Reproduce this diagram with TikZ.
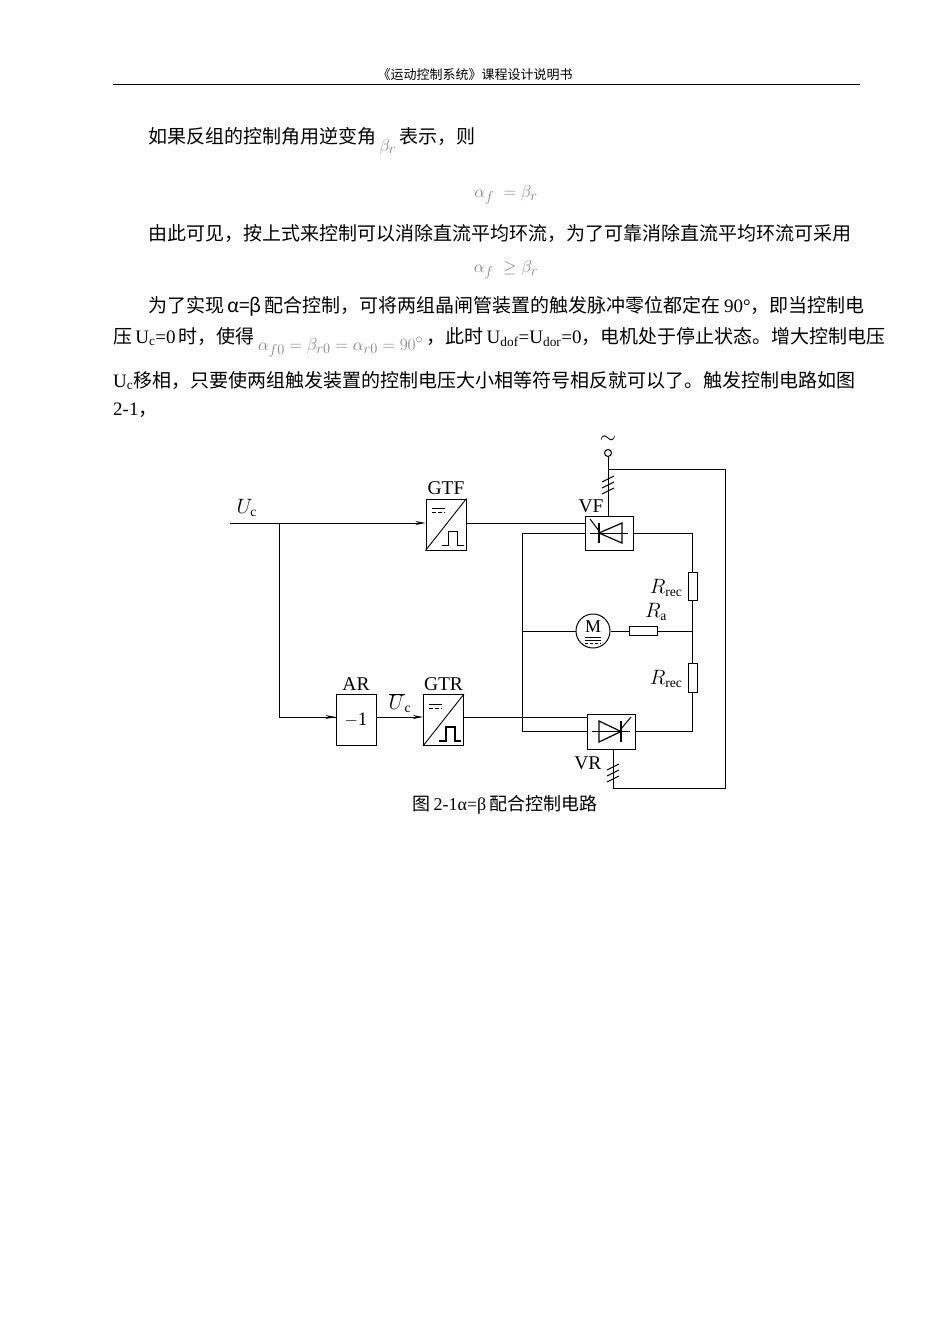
\documentclass[tikz,border=0pt]{standalone}
\usepackage{fontspec}
\setmainfont{Liberation Serif}
\newfontfamily\cjk{Noto Sans CJK SC}
\usetikzlibrary{arrows.meta,positioning}
\begin{document}
\begin{tikzpicture}[x=1pt,y=-1pt,
  wire/.style={line width=1pt},
  arr/.style={wire,-{Stealth[length=10pt,width=4pt]}},
  blk/.style={draw,line width=1pt,minimum width=40pt,minimum height=51pt,inner sep=0pt},
  lbl/.style={font=\fontsize{19.5}{21}\selectfont},
  body/.style={anchor=base west,font=\fontsize{19}{23}\selectfont\cjk,inner sep=0pt},
  frm/.style={text=gray,font=\fontsize{19}{22}\selectfont}]
\useasboundingbox (0,0) rectangle (950,1344);
% header
\node[font=\fontsize{13}{15}\selectfont\cjk] (hd) at (475,75) {《运动控制系统》课程设计说明书};
\draw[line width=0.8pt] (113,84) -- (860,84);
% text
\node[body] (t1) at (148,143) {如果反组的控制角用逆变角\,\raisebox{-8pt}{\color{gray}$\beta_r$}\,表示，则};
\node[frm] (f1) at (506,195) {$\alpha_{f}\;=\beta_{r}$};
\node[body] (t2) at (148,240) {由此可见，按上式来控制可以消除直流平均环流，为了可靠消除直流平均环流可采用};
\node[frm] (f2) at (506,270) {$\alpha_{f}\;\geq\beta_{r}$};
\node[body] (t3) at (148,312) {为了实现\,α=β\,配合控制，可将两组晶闸管装置的触发脉冲零位都定在\,{\rmfamily 90°}，即当控制电};
\node[body] (t4) at (113,343) {压\,{\rmfamily U\textsubscript{c}=0}\,时，使得\,\raisebox{-7pt}{\color{gray}$\alpha_{f0}=\beta_{r0}=\alpha_{r0}=90^{\circ}$}\,，此时\,{\rmfamily U\textsubscript{dof}=U\textsubscript{dor}=0}，电机处于停止状态。增大控制电压};
\node[body] (t5) at (113,387) {{\rmfamily U\textsubscript{c}}移相，只要使两组触发装置的控制电压大小相等符号相反就可以了。触发控制电路如图};
\node[body] (t6) at (113,415) {{\rmfamily 2-1}，};
% blocks
\node[blk] (gtf) at (446,524.5) {};
\node[blk] (gtr) at (443.5,720) {};
\node[blk] (ar) at (356,720) {\fontsize{19}{21}\selectfont $-$1};
\node[lbl,above=0pt of gtf] (lgtf) {GTF};
\node[lbl,above=0pt of gtr] (lgtr) {GTR};
\node[lbl,above=0pt of ar] (lar) {AR};
\foreach \b in {gtf,gtr}{
  \draw[line width=0.9pt] (\b.south west) -- (\b.north east);
  \draw[line width=1pt] ([shift={(6,10)}]\b.north west) -- ++(13,0);
  \draw[line width=1pt,dash pattern=on 4pt off 2pt] ([shift={(6,14)}]\b.north west) -- ++(13,0);
  \draw[line width=1.4pt] ([shift={(-25,-5)}]\b.south east) -- ++(7,0) -- ++(0,-14) -- ++(9,0) -- ++(0,14) -- ++(6,0);
}
% thyristor boxes
\node[draw,line width=1pt,minimum width=48pt,minimum height=34pt,inner sep=0pt] (vf) at (609,533) {};
\node[draw,line width=1pt,minimum width=48pt,minimum height=35pt,inner sep=0pt] (vr) at (611,731.5) {};
\node[lbl,anchor=south east] (lvf) at (607,516) {VF};
\node[lbl,anchor=east] (lvr) at (605,763) {VR};
% VF thyristor (pointing left)
\draw[line width=1pt] (vf.west) ++(5,0) -- ++(38,0);
\draw[line width=1.2pt] (599,523) -- (599,543);
\draw[line width=1.2pt] (599,533) -- (622,523) -- (622,543) -- cycle;
\draw[line width=1pt] (590,519) -- (599,531);
% VR thyristor (pointing right)
\draw[line width=1pt] (vr.west) ++(5,0) -- ++(38,0);
\draw[line width=1.2pt] (621,721) -- (621,742);
\draw[line width=1.2pt] (621,731.5) -- (599,721) -- (599,742) -- cycle;
\draw[line width=1pt] (631,717) -- (621,729);
% signal wires
\coordinate (uin) at (230,523);
\coordinate (br) at (279,523);
\node[lbl,anchor=south west] (luc) at (233,520) {$U_{\mathrm{c}}$};
\draw[wire] (uin) -- (br);
\draw[arr] (br) -- (gtf.west |- br);
\draw[wire] (br) |- (ar.west |- 0,717) coordinate (arin);
\draw[arr] (279,717) -- (arin);
\draw[arr] (ar.east |- 0,717) -- (gtr.west |- 0,717);
\node[lbl] (lubar) at (400,703) {$\overline{U}_{\mathrm{c}}$};
\draw[wire] (gtf.east |- 0,523) -- (vf.west |- 0,523);
\draw[wire] (gtr.east |- 0,717) -- (vr.west |- 0,717);
% power circuit
\coordinate (lt) at (522,533);
\coordinate (lb) at (522,731);
\coordinate (rt) at (692,533);
\coordinate (rb) at (692,731);
\coordinate (rm) at (692,631);
\draw[wire] (vf.west |- lt) -- (lt) -- (lb) -- (vr.west |- lb);
\draw[wire] (vf.east |- rt) -- (rt) -- (rb) -- (vr.east |- rb);
\node[draw,fill=white,line width=1pt,minimum width=9pt,minimum height=28pt,inner sep=0pt] (r1) at (692.5,586) {};
\node[draw,fill=white,line width=1pt,minimum width=9pt,minimum height=29pt,inner sep=0pt] (r2) at (692.5,677.5) {};
\node[lbl,anchor=east] (lr1) at (686,588) {$R_{\mathrm{rec}}$};
\node[lbl,anchor=east] (lr2) at (686,679) {$R_{\mathrm{rec}}$};
\node[draw,circle,line width=1pt,minimum size=34pt,inner sep=0pt] (m) at (593,631) {};
\node[font=\fontsize{18}{18}\selectfont] (mt) at (593,627) {M};
\draw[line width=0.9pt] (585,637) -- (601,637);
\draw[line width=0.9pt] (585,640) -- (601,640);
\draw[line width=0.9pt,dash pattern=on 3pt off 2pt] (585,643) -- (601,643);
\node[draw,line width=1pt,minimum width=28pt,minimum height=9pt,inner sep=0pt] (ra) at (643,631) {};
\node[lbl] (lra) at (656,612) {$R_{\mathrm{a}}$};
\draw[wire] (522,631) -- (m.west);
\draw[wire] (m.east) -- (ra.west);
\draw[wire] (ra.east) -- (rm);
% AC supply
\node[draw,circle,line width=1pt,minimum size=7pt,inner sep=0pt] (ac) at (608,453) {};
\node[lbl] (tl) at (608,440) {$\sim$};
\coordinate (j) at (608,469);
\draw[wire] (ac.south) -- (vf.north -| ac);
\draw[wire] (j) -- (725,469) -- (725,788) -- (613,788) coordinate (vb) -- (vb |- vr.south);
\foreach \yy in {479,485,491} \draw[line width=1pt] (602,\yy+3) -- (614,\yy-3);
\foreach \yy in {767,773,779} \draw[line width=1pt] (607,\yy+3) -- (619,\yy-3);
% caption
\node[font=\fontsize{18}{20}\selectfont\cjk] (cap) at (505,805) {图\,{\rmfamily 2-1α=β}\,配合控制电路};
\end{tikzpicture}
\end{document}
